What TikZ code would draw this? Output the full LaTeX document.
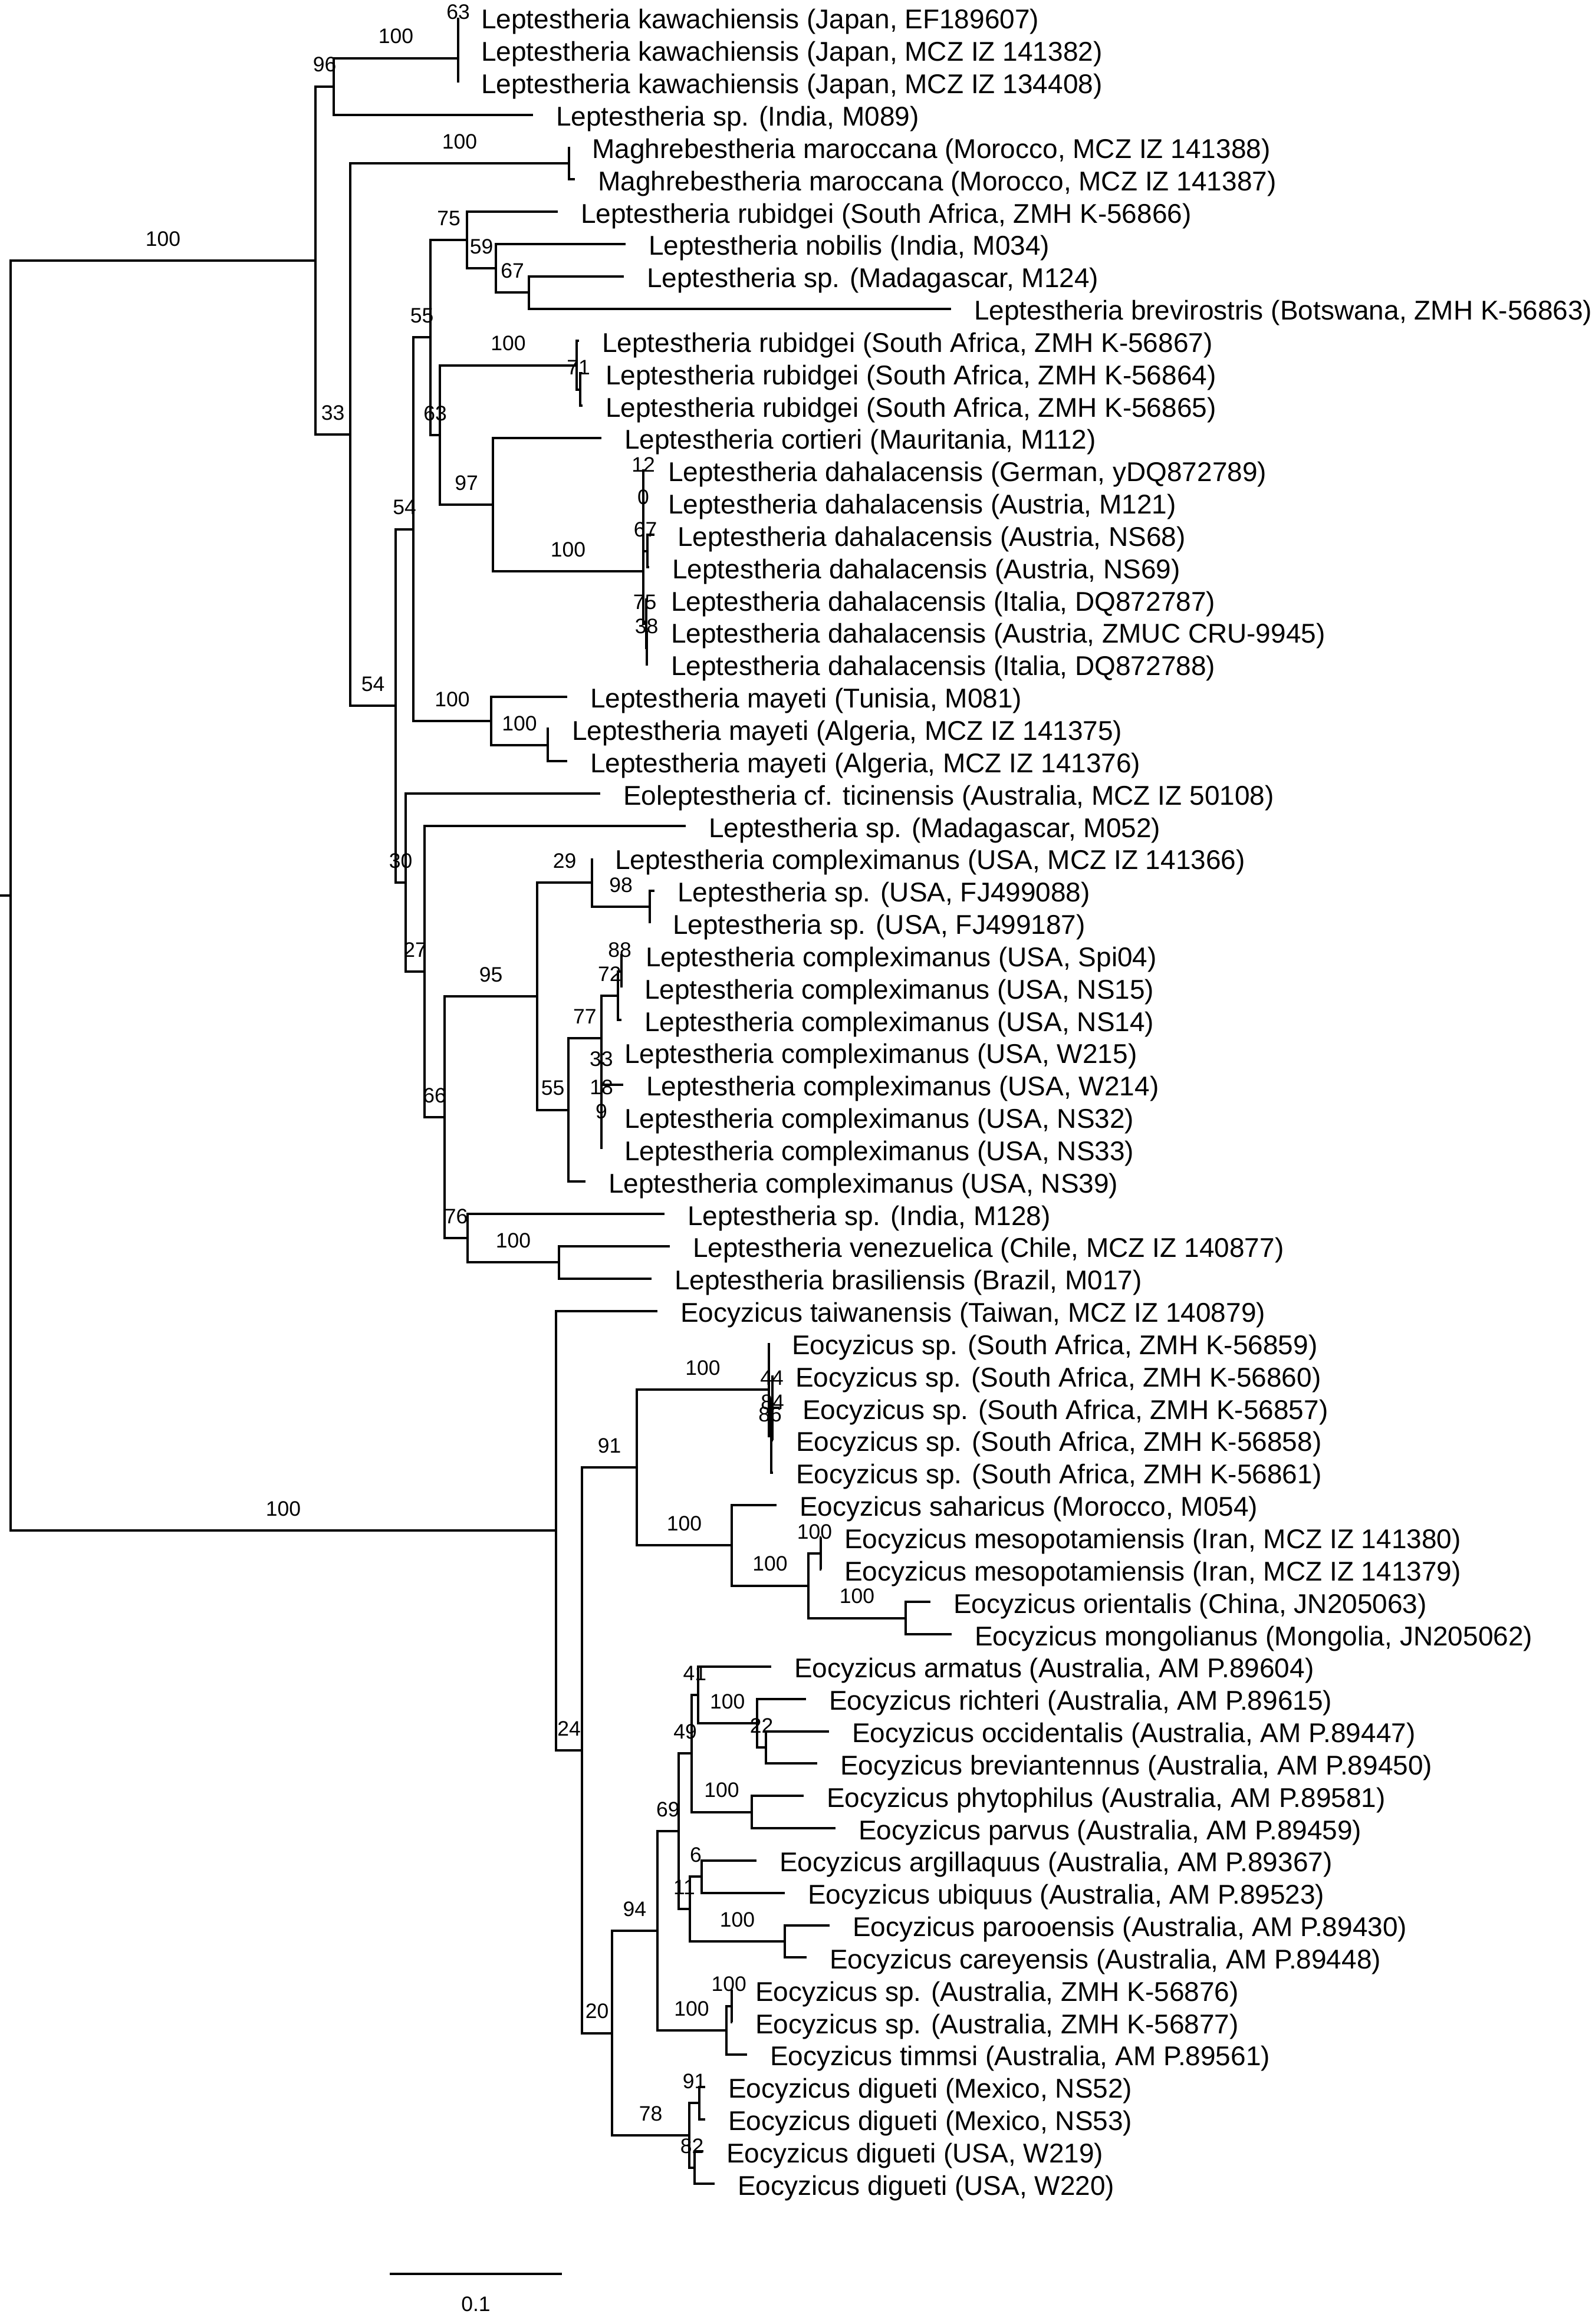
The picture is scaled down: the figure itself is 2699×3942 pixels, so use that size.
\documentclass[tikz,border=0pt]{standalone}
\usepackage{fontspec}
\setmainfont{Liberation Sans}
\usetikzlibrary{calc}
\tikzset{
  branch/.style={line width=4pt, black},
  leaflab/.style={anchor=base west, inner sep=0pt, xshift=39pt, yshift=-19pt, font=\fontsize{46}{50}\selectfont},
  bs/.style={anchor=center, inner sep=0pt, yshift=37pt, font=\fontsize{35.5}{40}\selectfont},
}
\newcommand\tleaf[4]{\coordinate (l#1) at (#2,#3); \node[leaflab] (t#1) at (l#1) {#4};}
\newcommand\tedge[3]{\draw[branch] (#1) |- (#2); \node[bs] (b#2) at ($(#1 |- #2)!0.5!(#2)$) {#3};}
\newcommand\tlink[2]{\draw[branch] (#1) |- (#2);}
\begin{document}
\begin{tikzpicture}[x=1pt,y=-1pt]
\useasboundingbox (0,0) rectangle (2699,3942);
% ---- leaves ----
\tleaf{1}{777}{30}{Leptestheria kawachiensis (Japan, EF189607)}
\tleaf{2}{777}{84.84}{Leptestheria kawachiensis (Japan, MCZ IZ 141382)}
\tleaf{3}{777}{139.68}{Leptestheria kawachiensis (Japan, MCZ IZ 134408)}
\tleaf{4}{904}{194.52}{Leptestheria sp. (India, M089)}
\tleaf{5}{965}{249.36}{Maghrebestheria maroccana (Morocco, MCZ IZ 141388)}
\tleaf{6}{975}{304.2}{Maghrebestheria maroccana (Morocco, MCZ IZ 141387)}
\tleaf{7}{946}{359.04}{Leptestheria rubidgei (South Africa, ZMH K-56866)}
\tleaf{8}{1061}{413.88}{Leptestheria nobilis (India, M034)}
\tleaf{9}{1058}{468.72}{Leptestheria sp. (Madagascar, M124)}
\tleaf{10}{1613}{523.56}{Leptestheria brevirostris (Botswana, ZMH K-56863)}
\tleaf{11}{982}{578.4}{Leptestheria rubidgei (South Africa, ZMH K-56867)}
\tleaf{12}{988}{633.24}{Leptestheria rubidgei (South Africa, ZMH K-56864)}
\tleaf{13}{988}{688.08}{Leptestheria rubidgei (South Africa, ZMH K-56865)}
\tleaf{14}{1020}{742.92}{Leptestheria cortieri (Mauritania, M112)}
\tleaf{15}{1094}{797.76}{Leptestheria dahalacensis (German, yDQ872789)}
\tleaf{16}{1094}{852.6}{Leptestheria dahalacensis (Austria, M121)}
\tleaf{17}{1110}{907.44}{Leptestheria dahalacensis (Austria, NS68)}
\tleaf{18}{1101}{962.28}{Leptestheria dahalacensis (Austria, NS69)}
\tleaf{19}{1099}{1017.12}{Leptestheria dahalacensis (Italia, DQ872787)}
\tleaf{20}{1099}{1071.96}{Leptestheria dahalacensis (Austria, ZMUC CRU-9945)}
\tleaf{21}{1099}{1126.8}{Leptestheria dahalacensis (Italia, DQ872788)}
\tleaf{22}{962}{1181.64}{Leptestheria mayeti (Tunisia, M081)}
\tleaf{23}{931}{1236.48}{Leptestheria mayeti (Algeria, MCZ IZ 141375)}
\tleaf{24}{962}{1291.32}{Leptestheria mayeti (Algeria, MCZ IZ 141376)}
\tleaf{25}{1018}{1346.16}{Eoleptestheria cf. ticinensis (Australia, MCZ IZ 50108)}
\tleaf{26}{1163}{1401}{Leptestheria sp. (Madagascar, M052)}
\tleaf{27}{1004}{1455.84}{Leptestheria compleximanus (USA, MCZ IZ 141366)}
\tleaf{28}{1110}{1510.68}{Leptestheria sp. (USA, FJ499088)}
\tleaf{29}{1102}{1565.52}{Leptestheria sp. (USA, FJ499187)}
\tleaf{30}{1056}{1620.36}{Leptestheria compleximanus (USA, Spi04)}
\tleaf{31}{1054}{1675.2}{Leptestheria compleximanus (USA, NS15)}
\tleaf{32}{1054}{1730.04}{Leptestheria compleximanus (USA, NS14)}
\tleaf{33}{1020}{1784.88}{Leptestheria compleximanus (USA, W215)}
\tleaf{34}{1057}{1839.72}{Leptestheria compleximanus (USA, W214)}
\tleaf{35}{1020}{1894.56}{Leptestheria compleximanus (USA, NS32)}
\tleaf{36}{1020}{1949.4}{Leptestheria compleximanus (USA, NS33)}
\tleaf{37}{993}{2004.24}{Leptestheria compleximanus (USA, NS39)}
\tleaf{38}{1127}{2059.08}{Leptestheria sp. (India, M128)}
\tleaf{39}{1136}{2113.92}{Leptestheria venezuelica (Chile, MCZ IZ 140877)}
\tleaf{40}{1105}{2168.76}{Leptestheria brasiliensis (Brazil, M017)}
\tleaf{41}{1115}{2223.6}{Eocyzicus taiwanensis (Taiwan, MCZ IZ 140879)}
\tleaf{42}{1304}{2278.44}{Eocyzicus sp. (South Africa, ZMH K-56859)}
\tleaf{43}{1310}{2333.28}{Eocyzicus sp. (South Africa, ZMH K-56860)}
\tleaf{44}{1322}{2388.12}{Eocyzicus sp. (South Africa, ZMH K-56857)}
\tleaf{45}{1311}{2442.96}{Eocyzicus sp. (South Africa, ZMH K-56858)}
\tleaf{46}{1311}{2497.8}{Eocyzicus sp. (South Africa, ZMH K-56861)}
\tleaf{47}{1317}{2552.64}{Eocyzicus saharicus (Morocco, M054)}
\tleaf{48}{1393}{2607.48}{Eocyzicus mesopotamiensis (Iran, MCZ IZ 141380)}
\tleaf{49}{1393}{2662.32}{Eocyzicus mesopotamiensis (Iran, MCZ IZ 141379)}
\tleaf{50}{1578}{2717.16}{Eocyzicus orientalis (China, JN205063)}
\tleaf{51}{1614}{2772}{Eocyzicus mongolianus (Mongolia, JN205062)}
\tleaf{52}{1308}{2826.84}{Eocyzicus armatus (Australia, AM P.89604)}
\tleaf{53}{1367}{2881.68}{Eocyzicus richteri (Australia, AM P.89615)}
\tleaf{54}{1406}{2936.52}{Eocyzicus occidentalis (Australia, AM P.89447)}
\tleaf{55}{1386}{2991.36}{Eocyzicus breviantennus (Australia, AM P.89450)}
\tleaf{56}{1363}{3046.2}{Eocyzicus phytophilus (Australia, AM P.89581)}
\tleaf{57}{1417}{3101.04}{Eocyzicus parvus (Australia, AM P.89459)}
\tleaf{58}{1283}{3155.88}{Eocyzicus argillaquus (Australia, AM P.89367)}
\tleaf{59}{1331}{3210.72}{Eocyzicus ubiquus (Australia, AM P.89523)}
\tleaf{60}{1407}{3265.56}{Eocyzicus parooensis (Australia, AM P.89430)}
\tleaf{61}{1368}{3320.4}{Eocyzicus careyensis (Australia, AM P.89448)}
\tleaf{62}{1242}{3375.24}{Eocyzicus sp. (Australia, ZMH K-56876)}
\tleaf{63}{1242}{3430.08}{Eocyzicus sp. (Australia, ZMH K-56877)}
\tleaf{64}{1267}{3484.92}{Eocyzicus timmsi (Australia, AM P.89561)}
\tleaf{65}{1196}{3539.76}{Eocyzicus digueti (Mexico, NS52)}
\tleaf{66}{1196}{3594.6}{Eocyzicus digueti (Mexico, NS53)}
\tleaf{67}{1193}{3649.44}{Eocyzicus digueti (USA, W219)}
\tleaf{68}{1212}{3704.28}{Eocyzicus digueti (USA, W220)}
% ---- internal nodes ----
\coordinate (s63) at (777,57.42);
\coordinate (K) at (777,98.55);
\coordinate (B) at (566,146.54);
\coordinate (M) at (965,276.78);
\coordinate (r71) at (984,660.66);
\coordinate (R) at (978,619.53);
\coordinate (O) at (897,496.14);
\coordinate (N) at (841,455.01);
\coordinate (L) at (792,407.03);
\coordinate (d12) at (1091,825.18);
\coordinate (d67) at (1098,934.86);
\coordinate (d0) at (1091,880.02);
\coordinate (d38) at (1097,1099.38);
\coordinate (d75) at (1096,1058.25);
\coordinate (D) at (1091,969.14);
\coordinate (J) at (836,856.03);
\coordinate (I) at (746,737.78);
\coordinate (H) at (730,572.4);
\coordinate (Y2) at (929,1263.9);
\coordinate (Y) at (833,1222.77);
\coordinate (F) at (701,897.59);
\coordinate (U2) at (1102,1538.1);
\coordinate (U) at (1004,1496.97);
\coordinate (x88) at (1054,1647.78);
\coordinate (X) at (1048,1688.91);
\coordinate (z9) at (1020,1921.98);
\coordinate (z18) at (1020,1880.85);
\coordinate (z33) at (1020,1832.87);
\coordinate (W) at (1019.5,1760.89);
\coordinate (V) at (964,1882.57);
\coordinate (S) at (911,1689.77);
\coordinate (T2) at (948,2141.34);
\coordinate (T) at (793,2100.21);
\coordinate (Q) at (754,1894.99);
\coordinate (P) at (720,1648);
\coordinate (G) at (688,1497.08);
\coordinate (E) at (671,1197.34);
\coordinate (C) at (594,737.06);
\coordinate (A) at (535,441.8);
\coordinate (x84) at (1310,2415.54);
\coordinate (x44) at (1310,2374.41);
\coordinate (c86) at (1308,2436.1);
\coordinate (SA) at (1304,2357.27);
\coordinate (Me) at (1392,2634.9);
\coordinate (Or) at (1536,2744.58);
\coordinate (Mz) at (1371,2689.74);
\coordinate (Nb) at (1241,2621.19);
\coordinate (N91) at (1080,2489.23);
\coordinate (N22) at (1299,2963.94);
\coordinate (Nr) at (1284,2922.81);
\coordinate (N41) at (1183.5,2874.83);
\coordinate (Np) at (1275,3073.62);
\coordinate (N49) at (1173,2974.22);
\coordinate (N6) at (1190,3183.3);
\coordinate (Nq) at (1331,3292.98);
\coordinate (N11) at (1170,3238.14);
\coordinate (N69) at (1151,3106.18);
\coordinate (Nd) at (1241,3402.66);
\coordinate (Nc) at (1231.5,3443.79);
\coordinate (N94) at (1114.5,3274.99);
\coordinate (N91b) at (1186,3567.18);
\coordinate (N82) at (1178,3676.86);
\coordinate (N78) at (1169,3622.02);
\coordinate (N20) at (1038,3448.5);
\coordinate (N24) at (987,2968.87);
\coordinate (Eo) at (943,2596.24);
\coordinate (root) at (18,1519.02);
\coordinate (stem) at (0,1519.02);
% ---- edges ----
\draw[branch] (stem) -- (root);
\tedge{root}{A}{100}
\tedge{root}{Eo}{100}
\tedge{A}{B}{96}
\tedge{A}{C}{33}
\tedge{B}{K}{100}
\tlink{B}{l4}
\tedge{K}{s63}{63}
\tlink{K}{l3}
\tlink{s63}{l1}
\tlink{s63}{l2}
\tedge{C}{M}{100}
\tedge{C}{E}{54}
\tlink{M}{l5}
\tlink{M}{l6}
\tedge{E}{F}{54}
\tedge{E}{G}{30}
\tedge{F}{H}{55}
\tedge{F}{Y}{100}
\tedge{H}{L}{75}
\tedge{H}{I}{63}
\tlink{L}{l7}
\tedge{L}{N}{59}
\tlink{N}{l8}
\tedge{N}{O}{67}
\tlink{O}{l9}
\tlink{O}{l10}
\tedge{I}{R}{100}
\tedge{I}{J}{97}
\tlink{R}{l11}
\tedge{R}{r71}{71}
\tlink{r71}{l12}
\tlink{r71}{l13}
\tlink{J}{l14}
\tedge{J}{D}{100}
\tedge{D}{d0}{0}
\tedge{D}{d75}{75}
\tedge{d0}{d12}{12}
\tedge{d0}{d67}{67}
\tlink{d12}{l15}
\tlink{d12}{l16}
\tlink{d67}{l17}
\tlink{d67}{l18}
\tlink{d75}{l19}
\tedge{d75}{d38}{38}
\tlink{d38}{l20}
\tlink{d38}{l21}
\tlink{Y}{l22}
\tedge{Y}{Y2}{100}
\tlink{Y2}{l23}
\tlink{Y2}{l24}
\tlink{G}{l25}
\tedge{G}{P}{27}
\tlink{P}{l26}
\tedge{P}{Q}{66}
\tedge{Q}{S}{95}
\tedge{Q}{T}{76}
\tedge{S}{U}{29}
\tedge{S}{V}{55}
\tlink{U}{l27}
\tedge{U}{U2}{98}
\tlink{U2}{l28}
\tlink{U2}{l29}
\tedge{V}{W}{77}
\tlink{V}{l37}
\tedge{W}{X}{72}
\tedge{W}{z33}{33}
\tedge{X}{x88}{88}
\tlink{X}{l32}
\tlink{x88}{l30}
\tlink{x88}{l31}
\tlink{z33}{l33}
\tedge{z33}{z18}{18}
\tlink{z18}{l34}
\tedge{z18}{z9}{9}
\tlink{z9}{l35}
\tlink{z9}{l36}
\tlink{T}{l38}
\tedge{T}{T2}{100}
\tlink{T2}{l39}
\tlink{T2}{l40}
\tlink{Eo}{l41}
\tedge{Eo}{N24}{24}
\tedge{N24}{N91}{91}
\tedge{N24}{N20}{20}
\tedge{N91}{SA}{100}
\tedge{N91}{Nb}{100}
\tlink{SA}{l42}
\tedge{SA}{c86}{86}
\tedge{c86}{x44}{44}
\tlink{c86}{l46}
\tlink{x44}{l43}
\tedge{x44}{x84}{84}
\tlink{x84}{l44}
\tlink{x84}{l45}
\tlink{Nb}{l47}
\tedge{Nb}{Mz}{100}
\tedge{Mz}{Me}{100}
\tedge{Mz}{Or}{100}
\tlink{Me}{l48}
\tlink{Me}{l49}
\tlink{Or}{l50}
\tlink{Or}{l51}
\tedge{N20}{N94}{94}
\tedge{N20}{N78}{78}
\tedge{N94}{N69}{69}
\tedge{N94}{Nc}{100}
\tedge{N69}{N49}{49}
\tedge{N69}{N11}{11}
\tedge{N49}{N41}{41}
\tedge{N49}{Np}{100}
\tlink{N41}{l52}
\tedge{N41}{Nr}{100}
\tlink{Nr}{l53}
\tedge{Nr}{N22}{22}
\tlink{N22}{l54}
\tlink{N22}{l55}
\tlink{Np}{l56}
\tlink{Np}{l57}
\tedge{N11}{N6}{6}
\tedge{N11}{Nq}{100}
\tlink{N6}{l58}
\tlink{N6}{l59}
\tlink{Nq}{l60}
\tlink{Nq}{l61}
\tedge{Nc}{Nd}{100}
\tlink{Nc}{l64}
\tlink{Nd}{l62}
\tlink{Nd}{l63}
\tedge{N78}{N91b}{91}
\tedge{N78}{N82}{82}
\tlink{N91b}{l65}
\tlink{N91b}{l66}
\tlink{N82}{l67}
\tlink{N82}{l68}
% ---- scale bar ----
\coordinate (sb1) at (661,3857);
\coordinate (sb2) at (953,3857);
\draw[branch] (sb1) -- (sb2);
\node[bs, yshift=-88pt] (sblab) at ($(sb1)!0.5!(sb2)$) {0.1};
\end{tikzpicture}
\end{document}
